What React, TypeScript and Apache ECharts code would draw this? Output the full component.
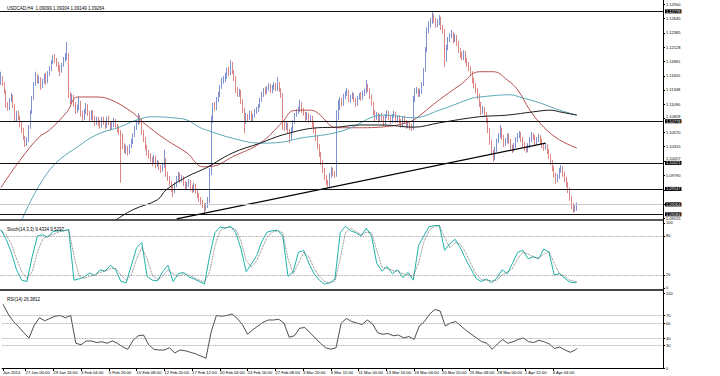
import React, { useEffect, useRef } from "react";
import * as echarts from "echarts";

const symbolTitle = "USDCAD,H4  1.09099 1.09304 1.09149 1.09264";
const stochTitle = "Stoch(14,3,3) 9.4334 9.5297";
const rsiTitle = "RSI(14) 26.3812";

const TOTAL_SLOTS = 381;
const timeTickBars = [0, 13, 29, 45, 61, 77, 93, 109, 125, 141, 157, 173, 189, 205, 221, 237, 253, 269, 285, 301, 317];
const timeTickLabels = ["Jan 2014", "27 Jan 00:00", "29 Jan 16:00", "3 Feb 04:00", "5 Feb 20:00", "10 Feb 08:00", "12 Feb 20:00", "17 Feb 12:00", "20 Feb 04:00", "24 Feb 16:00", "27 Feb 08:00", "3 Mar 20:00", "6 Mar 12:00", "11 Mar 00:00", "13 Mar 16:00", "18 Mar 04:00", "20 Mar 20:00", "25 Mar 08:00", "28 Mar 00:00", "1 Apr 12:00", "4 Apr 04:00"];

const priceTicks = [1.129, 1.12645, 1.12385, 1.12128, 1.11865, 1.11605, 1.11348, 1.1109, 1.10828, 1.1057, 1.10315, 1.10057, 1.0979, 1.0953, 1.09275, 1.09015];
const priceLevels = [1.12778, 1.10778, 1.10021, 1.09547, 1.09084];
const bidPrice = 1.09264;
const stochTicks = [0, 20, 80, 100];
const stochLevels = [20, 80];
const rsiTicks = [0, 30, 40, 60, 70, 100];
const rsiLevels = [30, 40, 60, 70];

// [open, close, low, high]
const candles = [
[1.1147,1.1157,1.1144,1.1168],[1.1157,1.1146,1.1142,1.1160],[1.1146,1.1131,1.1128,1.1149],[1.1131,1.1108,1.1102,1.1135],[1.1108,1.1102,1.1097,1.1113],
[1.1102,1.1117,1.1098,1.1120],[1.1117,1.1124,1.1113,1.1129],[1.1124,1.1106,1.1102,1.1126],[1.1106,1.1080,1.1077,1.1109],[1.1080,1.1093,1.1077,1.1097],
[1.1093,1.1084,1.1080,1.1097],[1.1084,1.1073,1.1067,1.1088],[1.1073,1.1062,1.1056,1.1077],[1.1062,1.1047,1.1044,1.1066],[1.1047,1.1036,1.1031,1.1051],
[1.1036,1.1044,1.1033,1.1049],[1.1044,1.1067,1.1040,1.1071],[1.1067,1.1095,1.1064,1.1098],[1.1095,1.1120,1.1091,1.1124],[1.1120,1.1146,1.1117,1.1149],
[1.1146,1.1160,1.1142,1.1168],[1.1160,1.1153,1.1147,1.1164],[1.1153,1.1155,1.1146,1.1160],[1.1155,1.1142,1.1135,1.1158],[1.1142,1.1149,1.1138,1.1155],
[1.1149,1.1160,1.1146,1.1164],[1.1160,1.1151,1.1144,1.1166],[1.1151,1.1164,1.1147,1.1169],[1.1164,1.1173,1.1160,1.1178],[1.1173,1.1186,1.1169,1.1189],
[1.1186,1.1195,1.1182,1.1198],[1.1195,1.1187,1.1184,1.1200],[1.1187,1.1182,1.1177,1.1193],[1.1182,1.1175,1.1168,1.1186],[1.1175,1.1171,1.1160,1.1180],
[1.1171,1.1180,1.1166,1.1184],[1.1180,1.1189,1.1177,1.1195],[1.1189,1.1196,1.1186,1.1202],[1.1196,1.1198,1.1189,1.1222],[1.1198,1.1126,1.1120,1.1202],
[1.1126,1.1117,1.1109,1.1131],[1.1117,1.1122,1.1111,1.1128],[1.1122,1.1109,1.1104,1.1126],[1.1109,1.1097,1.1091,1.1113],[1.1097,1.1102,1.1093,1.1108],
[1.1102,1.1111,1.1098,1.1122],[1.1111,1.1091,1.1086,1.1115],[1.1091,1.1084,1.1078,1.1097],[1.1084,1.1095,1.1080,1.1100],[1.1095,1.1106,1.1091,1.1111],
[1.1106,1.1093,1.1088,1.1109],[1.1093,1.1084,1.1078,1.1097],[1.1084,1.1095,1.1080,1.1098],[1.1095,1.1084,1.1078,1.1098],[1.1084,1.1075,1.1069,1.1088],
[1.1075,1.1082,1.1071,1.1086],[1.1082,1.1075,1.1069,1.1086],[1.1075,1.1069,1.1064,1.1080],[1.1069,1.1082,1.1066,1.1086],[1.1082,1.1075,1.1071,1.1086],
[1.1075,1.1069,1.1064,1.1078],[1.1069,1.1082,1.1066,1.1086],[1.1082,1.1075,1.1071,1.1088],[1.1075,1.1066,1.1060,1.1078],[1.1066,1.1071,1.1062,1.1077],
[1.1071,1.1078,1.1067,1.1084],[1.1078,1.1069,1.1066,1.1082],[1.1069,1.1064,1.1058,1.1073],[1.1064,1.1058,1.1053,1.1069],[1.1058,1.1051,1.0966,1.1062],
[1.1051,1.1033,1.1027,1.1055],[1.1033,1.1026,1.1020,1.1038],[1.1026,1.1029,1.1018,1.1035],[1.1029,1.1022,1.1015,1.1033],[1.1022,1.1033,1.1018,1.1036],
[1.1033,1.1040,1.1029,1.1046],[1.1040,1.1053,1.1036,1.1056],[1.1053,1.1066,1.1049,1.1069],[1.1066,1.1075,1.1062,1.1080],[1.1075,1.1084,1.1071,1.1093],
[1.1084,1.1078,1.1073,1.1089],[1.1078,1.1058,1.1053,1.1082],[1.1058,1.1046,1.1040,1.1062],[1.1046,1.1031,1.1026,1.1049],[1.1031,1.1020,1.1015,1.1035],
[1.1020,1.1015,1.1009,1.1026],[1.1015,1.1009,1.1004,1.1020],[1.1009,1.1004,1.0996,1.1013],[1.1004,1.1011,1.1000,1.1017],[1.1011,1.1000,1.0993,1.1015],
[1.1000,1.1002,1.0995,1.1007],[1.1002,1.0995,1.0989,1.1005],[1.0995,1.0989,1.0984,1.0998],[1.0989,1.0996,1.0986,1.1002],[1.0996,1.1007,1.0993,1.1026],
[1.1007,1.0982,1.0977,1.1011],[1.0982,1.0975,1.0969,1.0986],[1.0975,1.0966,1.0960,1.0978],[1.0966,1.0957,1.0949,1.0969],[1.0957,1.0951,1.0940,1.0960],
[1.0951,1.0962,1.0947,1.0967],[1.0962,1.0973,1.0958,1.0978],[1.0973,1.0980,1.0969,1.0986],[1.0980,1.0971,1.0966,1.0984],[1.0971,1.0975,1.0967,1.0980],
[1.0975,1.0966,1.0960,1.0978],[1.0966,1.0958,1.0953,1.0969],[1.0958,1.0962,1.0955,1.0967],[1.0962,1.0967,1.0958,1.0973],[1.0967,1.0957,1.0951,1.0971],
[1.0957,1.0953,1.0947,1.0962],[1.0953,1.0960,1.0949,1.0966],[1.0960,1.0951,1.0946,1.0964],[1.0951,1.0944,1.0938,1.0955],[1.0944,1.0936,1.0931,1.0947],
[1.0936,1.0931,1.0925,1.0940],[1.0931,1.0925,1.0920,1.0935],[1.0925,1.0918,1.0911,1.0929],[1.0918,1.0924,1.0915,1.0929],[1.0924,1.0935,1.0920,1.0940],
[1.0935,1.0986,1.0929,1.0993],[1.0986,1.1080,1.0980,1.1088],[1.1080,1.1106,1.1075,1.1111],[1.1106,1.1102,1.1097,1.1113],[1.1102,1.1117,1.1098,1.1122],
[1.1117,1.1126,1.1113,1.1131],[1.1126,1.1140,1.1122,1.1144],[1.1140,1.1151,1.1137,1.1157],[1.1151,1.1155,1.1146,1.1160],[1.1155,1.1158,1.1149,1.1166],
[1.1158,1.1171,1.1155,1.1175],[1.1171,1.1166,1.1160,1.1177],[1.1166,1.1182,1.1162,1.1189],[1.1182,1.1168,1.1164,1.1186],[1.1168,1.1157,1.1151,1.1171],
[1.1157,1.1135,1.1129,1.1160],[1.1135,1.1128,1.1122,1.1140],[1.1128,1.1131,1.1122,1.1137],[1.1131,1.1115,1.1109,1.1135],[1.1115,1.1098,1.1093,1.1118],
[1.1098,1.1077,1.1056,1.1102],[1.1077,1.1088,1.1073,1.1093],[1.1088,1.1084,1.1078,1.1091],[1.1084,1.1093,1.1080,1.1097],[1.1093,1.1082,1.1077,1.1097],
[1.1082,1.1088,1.1078,1.1091],[1.1088,1.1095,1.1084,1.1100],[1.1095,1.1098,1.1091,1.1104],[1.1098,1.1106,1.1095,1.1109],[1.1106,1.1117,1.1102,1.1120],
[1.1117,1.1126,1.1113,1.1131],[1.1126,1.1135,1.1122,1.1138],[1.1135,1.1131,1.1126,1.1140],[1.1131,1.1137,1.1128,1.1142],[1.1137,1.1142,1.1133,1.1147],
[1.1142,1.1133,1.1129,1.1146],[1.1133,1.1138,1.1129,1.1144],[1.1138,1.1144,1.1135,1.1149],[1.1144,1.1137,1.1133,1.1147],[1.1137,1.1146,1.1133,1.1158],
[1.1146,1.1135,1.1131,1.1149],[1.1135,1.1126,1.1120,1.1138],[1.1126,1.1073,1.1062,1.1129],[1.1073,1.1066,1.1060,1.1078],[1.1066,1.1071,1.1062,1.1077],
[1.1071,1.1060,1.1055,1.1075],[1.1060,1.1047,1.1038,1.1064],[1.1047,1.1062,1.1044,1.1067],[1.1062,1.1077,1.1058,1.1080],[1.1077,1.1089,1.1073,1.1093],
[1.1089,1.1095,1.1086,1.1100],[1.1095,1.1098,1.1091,1.1104],[1.1098,1.1109,1.1095,1.1117],[1.1109,1.1098,1.1093,1.1113],[1.1098,1.1091,1.1088,1.1102],
[1.1091,1.1084,1.1078,1.1095],[1.1084,1.1089,1.1080,1.1095],[1.1089,1.1080,1.1075,1.1093],[1.1080,1.1084,1.1077,1.1089],[1.1084,1.1073,1.1067,1.1088],
[1.1073,1.1062,1.1056,1.1077],[1.1062,1.1047,1.1042,1.1066],[1.1047,1.1033,1.1027,1.1051],[1.1033,1.1018,1.1013,1.1036],[1.1018,1.1004,1.0998,1.1022],
[1.1004,1.0989,1.0984,1.1007],[1.0989,1.0977,1.0971,1.0993],[1.0977,1.0967,1.0962,1.0980],[1.0967,1.0962,1.0957,1.0971],[1.0962,1.0978,1.0958,1.0984],
[1.0978,1.0989,1.0975,1.0995],[1.0989,1.0984,1.0978,1.0993],[1.0984,1.0980,1.0975,1.0987],[1.0980,1.1084,1.0977,1.1098],[1.1084,1.1102,1.1080,1.1117],
[1.1102,1.1117,1.1098,1.1122],[1.1117,1.1109,1.1104,1.1120],[1.1109,1.1122,1.1106,1.1128],[1.1122,1.1129,1.1118,1.1133],[1.1129,1.1131,1.1124,1.1138],
[1.1131,1.1117,1.1113,1.1135],[1.1117,1.1122,1.1111,1.1126],[1.1122,1.1126,1.1118,1.1131],[1.1126,1.1117,1.1113,1.1129],[1.1117,1.1109,1.1104,1.1120],
[1.1109,1.1120,1.1106,1.1124],[1.1120,1.1126,1.1117,1.1129],[1.1126,1.1120,1.1115,1.1131],[1.1120,1.1128,1.1117,1.1133],[1.1128,1.1131,1.1124,1.1137],
[1.1131,1.1140,1.1128,1.1153],[1.1140,1.1135,1.1131,1.1146],[1.1135,1.1122,1.1118,1.1138],[1.1122,1.1109,1.1106,1.1126],[1.1109,1.1095,1.1089,1.1113],
[1.1095,1.1084,1.1078,1.1098],[1.1084,1.1089,1.1080,1.1095],[1.1089,1.1080,1.1075,1.1093],[1.1080,1.1088,1.1077,1.1091],[1.1088,1.1084,1.1078,1.1093],
[1.1084,1.1075,1.1069,1.1088],[1.1075,1.1088,1.1071,1.1091],[1.1088,1.1093,1.1084,1.1098],[1.1093,1.1084,1.1080,1.1097],[1.1084,1.1078,1.1073,1.1089],
[1.1078,1.1088,1.1075,1.1091],[1.1088,1.1091,1.1084,1.1097],[1.1091,1.1078,1.1075,1.1095],[1.1078,1.1084,1.1075,1.1088],[1.1084,1.1078,1.1073,1.1089],
[1.1078,1.1071,1.1066,1.1082],[1.1071,1.1082,1.1067,1.1086],[1.1082,1.1077,1.1073,1.1088],[1.1077,1.1069,1.1064,1.1080],[1.1069,1.1073,1.1066,1.1078],
[1.1073,1.1067,1.1062,1.1077],[1.1067,1.1066,1.1060,1.1073],[1.1066,1.1117,1.1062,1.1124],[1.1117,1.1131,1.1113,1.1138],[1.1131,1.1135,1.1128,1.1140],
[1.1135,1.1126,1.1122,1.1138],[1.1126,1.1131,1.1122,1.1137],[1.1131,1.1146,1.1128,1.1149],[1.1146,1.1171,1.1142,1.1175],[1.1171,1.1207,1.1168,1.1213],
[1.1207,1.1244,1.1204,1.1249],[1.1244,1.1253,1.1238,1.1260],[1.1253,1.1260,1.1248,1.1266],[1.1260,1.1269,1.1255,1.1277],[1.1269,1.1262,1.1257,1.1273],
[1.1262,1.1253,1.1248,1.1266],[1.1253,1.1258,1.1249,1.1264],[1.1258,1.1264,1.1253,1.1271],[1.1264,1.1249,1.1244,1.1268],[1.1249,1.1242,1.1237,1.1253],
[1.1242,1.1189,1.1177,1.1246],[1.1189,1.1211,1.1186,1.1217],[1.1211,1.1226,1.1207,1.1231],[1.1226,1.1233,1.1222,1.1238],[1.1233,1.1237,1.1229,1.1244],
[1.1237,1.1226,1.1220,1.1240],[1.1226,1.1231,1.1222,1.1237],[1.1231,1.1220,1.1215,1.1235],[1.1220,1.1207,1.1202,1.1224],[1.1207,1.1198,1.1193,1.1211],
[1.1198,1.1193,1.1189,1.1204],[1.1193,1.1202,1.1189,1.1207],[1.1202,1.1189,1.1184,1.1206],[1.1189,1.1182,1.1177,1.1193],[1.1182,1.1175,1.1169,1.1186],
[1.1175,1.1166,1.1160,1.1178],[1.1166,1.1153,1.1147,1.1169],[1.1153,1.1144,1.1138,1.1157],[1.1144,1.1135,1.1129,1.1147],[1.1135,1.1124,1.1118,1.1138],
[1.1124,1.1109,1.1104,1.1128],[1.1109,1.1095,1.1089,1.1113],[1.1095,1.1100,1.1091,1.1106],[1.1100,1.1091,1.1086,1.1104],[1.1091,1.1080,1.1075,1.1095],
[1.1080,1.1062,1.1056,1.1084],[1.1062,1.1040,1.1035,1.1066],[1.1040,1.1022,1.1017,1.1044],[1.1022,1.1011,1.1004,1.1026],[1.1011,1.1026,1.1007,1.1031],
[1.1026,1.1042,1.1022,1.1046],[1.1042,1.1051,1.1038,1.1056],[1.1051,1.1062,1.1047,1.1071],[1.1062,1.1049,1.1044,1.1066],[1.1049,1.1036,1.1031,1.1053],
[1.1036,1.1042,1.1033,1.1047],[1.1042,1.1051,1.1038,1.1056],[1.1051,1.1042,1.1036,1.1055],[1.1042,1.1031,1.1026,1.1046],[1.1031,1.1026,1.1020,1.1035],
[1.1026,1.1033,1.1022,1.1038],[1.1033,1.1044,1.1029,1.1049],[1.1044,1.1051,1.1040,1.1056],[1.1051,1.1055,1.1047,1.1060],[1.1055,1.1046,1.1040,1.1058],
[1.1046,1.1036,1.1031,1.1049],[1.1036,1.1029,1.1024,1.1040],[1.1029,1.1026,1.1020,1.1033],[1.1026,1.1033,1.1022,1.1038],[1.1033,1.1044,1.1029,1.1049],
[1.1044,1.1053,1.1040,1.1058],[1.1053,1.1049,1.1044,1.1056],[1.1049,1.1040,1.1035,1.1053],[1.1040,1.1044,1.1036,1.1049],[1.1044,1.1049,1.1040,1.1055],
[1.1049,1.1042,1.1036,1.1053],[1.1042,1.1035,1.1029,1.1046],[1.1035,1.1029,1.1024,1.1038],[1.1029,1.1033,1.1026,1.1038],[1.1033,1.1024,1.1018,1.1036],
[1.1024,1.1015,1.1009,1.1027],[1.1015,1.1004,1.0998,1.1018],[1.1004,1.0993,1.0987,1.1007],[1.0993,1.0980,1.0975,1.0996],[1.0980,1.0971,1.0964,1.0984],
[1.0971,1.0977,1.0967,1.0982],[1.0977,1.0987,1.0973,1.0993],[1.0987,1.0993,1.0984,1.0998],[1.0993,1.0982,1.0977,1.0996],[1.0982,1.0973,1.0967,1.0986],
[1.0973,1.0964,1.0958,1.0977],[1.0964,1.0953,1.0947,1.0967],[1.0953,1.0938,1.0933,1.0957],[1.0938,1.0924,1.0918,1.0942],[1.0924,1.0917,1.0911,1.0929],
[1.0917,1.0920,1.0913,1.0925],[1.0920,1.0926,1.0915,1.0930]
];

// moving averages read at sample bars: [bar, price]
const maRed = [[0,1.0957],[11,1.1007],[22,1.1049],[28,1.1062],[38,1.1095],[44,1.1122],[54,1.1122],[63,1.1117],[76,1.1093],[82,1.1075],[95,1.1044],[107,1.1020],[116,1.0995],[122,1.0996],[133,1.1013],[149,1.1038],[162,1.1077],[168,1.1097],[178,1.1098],[182,1.1093],[193,1.1066],[206,1.1066],[224,1.1069],[235,1.1077],[239,1.1084],[252,1.1117],[264,1.1144],[275,1.1168],[283,1.1168],[291,1.1153],[297,1.1135],[304,1.1098],[312,1.1067],[321,1.1044],[331,1.1029]];
const maTeal = [[12,1.0898],[28,1.0989],[47,1.1038],[57,1.1056],[68,1.1067],[78,1.1080],[87,1.1086],[99,1.1084],[107,1.1080],[114,1.1067],[118,1.1062],[133,1.1047],[149,1.1038],[162,1.1040],[172,1.1047],[191,1.1056],[202,1.1067],[214,1.1086],[222,1.1089],[237,1.1084],[252,1.1098],[271,1.1120],[275,1.1122],[293,1.1126],[298,1.1122],[310,1.1111],[321,1.1098],[331,1.1089]];
const maBlack = [[66,1.0898],[76,1.0917],[90,1.0935],[95,1.0953],[107,1.0977],[118,1.0993],[133,1.1020],[149,1.1038],[162,1.1053],[182,1.1066],[193,1.1067],[206,1.1071],[220,1.1071],[237,1.1067],[252,1.1075],[275,1.1086],[291,1.1089],[306,1.1095],[316,1.1098],[321,1.1095],[331,1.1089]];
const trendLine = [[101, 1.0900], [313, 1.1038]];

// oscillators read every OSC_STEP bars, plus the last bar
const OSC_STEP = 3;
const LAST_BAR = 331;
const stochMain = [90,75,55,28,12,10,48,80,82,78,87,88,88,90,12,14,17,23,19,28,26,35,28,10,8,35,62,70,18,12,11,25,35,10,22,24,17,14,10,6,50,85,94,92,95,85,60,25,37,50,72,86,88,89,80,18,25,55,58,38,22,12,6,8,14,85,95,88,85,80,92,80,38,26,33,22,28,16,24,12,65,80,94,96,96,58,68,75,62,45,30,15,10,14,8,15,28,22,38,55,58,45,48,45,60,55,20,22,15,9,8];
const stochSignal = [88,82,68,45,25,15,25,55,75,80,82,86,88,89,50,18,15,18,20,24,26,30,30,20,12,20,45,62,45,20,13,18,28,22,18,22,20,16,12,9,25,65,88,93,93,90,72,42,32,42,60,78,86,88,85,45,22,38,55,48,30,18,10,8,10,45,85,92,87,82,86,85,58,32,30,27,26,22,20,18,38,70,88,95,96,78,62,70,68,55,38,22,13,12,11,12,20,24,30,45,55,52,48,46,52,56,38,22,18,12,10];
const rsiValues = [85,72,62,55,47,40,57,67,63,66,69,70,67,70,33,31,36,36,34,35,33,36,33,28,25,37,43,44,31,25,24,24,27,20,24,23,21,19,16,13,48,70,69,70,72,66,58,45,51,56,61,64,64,65,60,41,43,53,54,47,40,33,27,25,27,60,66,62,60,58,64,59,47,45,46,43,44,40,42,38,56,62,72,78,76,56,60,62,56,50,45,40,35,33,25,32,38,33,35,38,40,35,34,37,35,32,26,28,24,21,24];
const stochMainLast = 9.4334;
const stochSignalLast = 9.5297;
const rsiLast = 26.3812;

const FONT = "Liberation Sans";
const UP = "#2a48b0";
const DOWN = "#c83232";

function buildOption() {
  const cats = Array.from({ length: TOTAL_SLOTS }, (_, i) => String(i));
  const tickMap = new Map<number, string>(timeTickBars.map((b, i) => [b, timeTickLabels[i]]));
  const osc = (arr: number[], last: number) => [...arr.map((v, k) => [k * OSC_STEP, v]), [LAST_BAR, last]];
  const hiddenX = (gridIndex: number) => ({
    type: "category", gridIndex, data: cats, boundaryGap: true,
    axisLine: { show: false }, axisTick: { show: false }, axisLabel: { show: false }, splitLine: { show: false },
  });
  const txt = { fontSize: 4, color: "#000", fontFamily: FONT };
  // tick labels sitting just above a highlighted level label are lifted a little
  const crowded = (v: number) => priceLevels.some((l) => v > l && v - l < 0.0007);
  const levelLine = (vals: number[]) => ({
    silent: true, symbol: ["none", "none"],
    lineStyle: { color: "#888", type: "dotted", width: 0.8 },
    label: { show: false },
    data: vals.map((v) => ({ yAxis: v })),
  });
  return {
    animation: false,
    backgroundColor: "#fff",
    title: [
      { text: symbolTitle, left: 2, top: 1, textStyle: { ...txt, fontSize: 4.5, fontWeight: "normal" } },
      { text: stochTitle, left: 2, top: 222, textStyle: { ...txt, fontSize: 4.5, fontWeight: "normal" } },
      { text: rsiTitle, left: 2, top: 292, textStyle: { ...txt, fontSize: 4.5, fontWeight: "normal" } },
    ],
    grid: [
      { left: 0, right: 57, top: 0, height: 220 },
      { left: 0, right: 57, top: 220, height: 70 },
      { left: 0, right: 57, top: 290, height: 78 },
    ],
    xAxis: [
      hiddenX(0),
      hiddenX(1),
      {
        ...hiddenX(2),
        axisLine: { show: true, lineStyle: { color: "#000", width: 1 } },
        axisTick: { show: true, alignWithLabel: true, length: 3, interval: (i: number) => tickMap.has(i), lineStyle: { color: "#000" } },
        axisLabel: { show: true, interval: (i: number) => tickMap.has(i), formatter: (_v: string, i: number) => tickMap.get(i) ?? "", align: "left", margin: 2, ...txt, fontSize: 4.2 },
      },
    ],
    yAxis: [
      {
        type: "value", gridIndex: 0, position: "right", min: 1.08981, max: 1.12985,
        splitLine: { show: false },
        axisLine: { show: true, lineStyle: { color: "#000" } },
        axisTick: { show: true, length: 2, customValues: priceTicks, lineStyle: { color: "#000" } },
        axisLabel: {
          customValues: priceTicks, margin: 3, ...txt,
          formatter: (v: number) => (crowded(v) ? `{up|${v.toFixed(5)}}` : v.toFixed(5)),
          rich: { up: { ...txt, padding: [0, 0, 5, 0] } },
        },
      },
      {
        type: "value", gridIndex: 1, position: "right", min: -3.1, max: 104.6,
        splitLine: { show: false },
        axisLine: { show: true, lineStyle: { color: "#000" } },
        axisTick: { show: true, length: 2, customValues: stochTicks, lineStyle: { color: "#000" } },
        axisLabel: { customValues: stochTicks, margin: 3, ...txt },
      },
      {
        type: "value", gridIndex: 2, position: "right", min: 0, max: 104,
        splitLine: { show: false },
        axisLine: { show: true, lineStyle: { color: "#000" } },
        axisTick: { show: true, length: 2, customValues: rsiTicks, lineStyle: { color: "#000" } },
        axisLabel: { customValues: rsiTicks, margin: 3, ...txt },
      },
    ],
    graphic: [
      { type: "line", shape: { x1: 0, y1: 220, x2: 663, y2: 220 }, style: { stroke: "#222", lineWidth: 1.5 }, z: 100 },
      { type: "line", shape: { x1: 0, y1: 290, x2: 663, y2: 290 }, style: { stroke: "#444", lineWidth: 2 }, z: 100 },
    ],
    series: [
      {
        type: "candlestick", xAxisIndex: 0, yAxisIndex: 0, data: candles, barWidth: 1,
        itemStyle: { color: UP, color0: DOWN, borderColor: UP, borderColor0: DOWN, borderWidth: 0.6 },
        markLine: {
          silent: true, symbol: ["none", "none"], precision: 5,
          data: [
            ...priceLevels.map((v) => ({ yAxis: v, lineStyle: { color: "#111", width: 1, type: "solid" } })),
            { yAxis: bidPrice, lineStyle: { color: "#c8c8c8", width: 1, type: "solid" } },
          ],
          label: {
            show: true, position: "end", distance: 2,
            formatter: (p: any) => Number(p.value).toFixed(5),
            backgroundColor: "#000", color: "#fff", padding: [0, 1], fontSize: 4, fontFamily: FONT,
          },
        },
      },
      { type: "line", xAxisIndex: 0, yAxisIndex: 0, data: maRed, smooth: 0.4, showSymbol: false, lineStyle: { color: "#b85050", width: 1 } },
      { type: "line", xAxisIndex: 0, yAxisIndex: 0, data: maTeal, smooth: 0.4, showSymbol: false, lineStyle: { color: "#5aa8b8", width: 1 } },
      { type: "line", xAxisIndex: 0, yAxisIndex: 0, data: maBlack, smooth: 0.4, showSymbol: false, lineStyle: { color: "#1a1a1a", width: 1 } },
      { type: "line", xAxisIndex: 0, yAxisIndex: 0, data: trendLine, showSymbol: false, lineStyle: { color: "#000", width: 1.2 } },
      {
        type: "line", xAxisIndex: 1, yAxisIndex: 1, data: osc(stochMain, stochMainLast), showSymbol: false,
        lineStyle: { color: "#20b2aa", width: 1 }, markLine: levelLine(stochLevels),
      },
      {
        type: "line", xAxisIndex: 1, yAxisIndex: 1, data: osc(stochSignal, stochSignalLast), showSymbol: false,
        lineStyle: { color: "#555", width: 0.8, type: "dotted" },
      },
      {
        type: "line", xAxisIndex: 2, yAxisIndex: 2, data: osc(rsiValues, rsiLast), showSymbol: false,
        lineStyle: { color: "#222", width: 0.8 }, markLine: levelLine(rsiLevels),
      },
    ],
  };
}

export default function App() {
  const ref = useRef<HTMLDivElement>(null);
  useEffect(() => {
    document.body.style.margin = "0";
    const chart = echarts.init(ref.current!, undefined, { renderer: "svg" });
    chart.setOption(buildOption() as any);
    return () => chart.dispose();
  }, []);
  return <div ref={ref} style={{ width: 720, height: 376 }} />;
}
